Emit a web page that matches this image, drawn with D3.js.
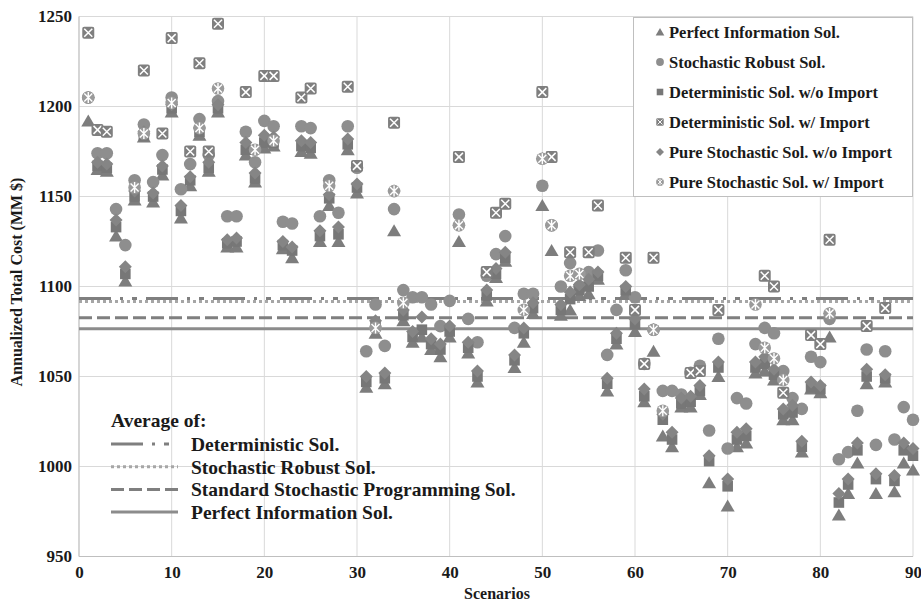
<!DOCTYPE html>
<html><head><meta charset="utf-8">
<script src="https://cdn.jsdelivr.net/npm/d3@7"></script>
<style>
body{margin:0;background:#fff}
text{font-family:"Liberation Serif","Times New Roman",serif;font-weight:bold;fill:#1a1a1a}
</style>
</head><body>
<svg id="c" width="921" height="607"></svg>
<script>
// ---------------- DATA ----------------
const scenarios = d3.range(1, 91);
const xTicks = [0,10,20,30,40,50,60,70,80,90];
const yTicks = [950,1000,1050,1100,1150,1200,1250];

const perfectInfo = [1192,1165,1164,1128,1103,1148,1183,1147,1162,1197,
 1138,1156,1184,1164,1197,1122,1122,1173,1158,1177,
 1178,1121,1116,1175,1174,1125,1145,1125,1176,1152,
 1044,1074,1046,1131,1081,1069,1072,1065,1061,1072,
 1125,1063,1047,1092,1105,1114,1055,1069,1085,1145,
 1120,1084,1087,1095,1096,1104,1042,1068,1096,1075,
 1036,1064,1017,1011,1033,1033,1040,991,1050,978,
 1011,1013,1052,1053,1048,1026,1026,1008,1043,1041,
 1072,973,985,1002,1046,985,1047,986,1002,998];

const stochRobust = [1205,1174,1174,1143,1123,1159,1190,1158,1173,1205,
 1154,1168,1193,1173,1203,1139,1139,1186,1169,1192,
 1189,1136,1135,1189,1188,1139,1159,1141,1189,1166,
 1064,1090,1067,1143,1098,1094,1094,1090,1078,1092,
 1140,1082,1069,1106,1118,1128,1077,1096,1096,1156,
 1134,1100,1113,1100,1108,1120,1062,1087,1109,1094,
 1057,1076,1042,1042,1040,1052,1056,1020,1071,1010,
 1038,1035,1068,1077,1074,1053,1038,1032,1061,1058,
 1082,1004,1008,1031,1065,1012,1064,1015,1033,1026];

const detNoImport = [1241,1167,1166,1133,1107,1150,1184,1150,1165,1199,
 1142,1159,1186,1166,1199,1124,1125,1176,1160,1180,
 1180,1123,1120,1178,1177,1128,1149,1129,1179,1155,
 1047,1078,1049,1191,1084,1072,1076,1068,1065,1075,
 1172,1066,1050,1095,1107,1116,1059,1074,1088,1208,
 1172,1087,1093,1098,1100,1106,1046,1071,1098,1079,
 1039,1116,1026,1015,1035,1036,1042,1003,1055,989,
 1015,1017,1055,1057,1051,1029,1030,1011,1044,1043,
 1126,980,990,1009,1050,993,1049,992,1009,1006];

const detImport = [1241,1187,1186,null,null,null,1220,null,1185,1238,
 null,1175,1224,1175,1246,null,null,1208,null,1217,
 1217,null,null,1205,1210,null,null,null,1211,1167,
 null,null,null,1191,null,null,null,null,null,null,
 1172,null,null,1108,1141,1146,null,null,null,1208,
 1172,null,1119,null,1119,1145,null,null,1116,1087,
 1057,1116,null,null,null,1052,1053,null,1087,null,
 null,null,null,1106,1100,1041,null,null,1073,1068,
 1126,null,null,null,1078,null,1088,null,null,null];

const pureStochNoImport = [1205,1169,1168,1137,1111,1153,1186,1152,1167,1201,
 1145,1161,1188,1169,1201,1126,1127,1180,1163,1184,
 1183,1125,1122,1181,1180,1131,1151,1133,1182,1157,
 1050,1081,1052,1153,1087,1075,1083,1071,1068,1078,
 1134,1069,1053,1098,1110,1119,1062,1077,1091,1171,
 1134,1090,1097,1101,1104,1108,1049,1074,1100,1082,
 1043,1076,1029,1019,1038,1039,1045,1006,1058,993,
 1019,1021,1058,1061,1054,1032,1034,1014,1047,1045,
 1085,985,993,1013,1054,996,1051,995,1013,1010];

const pureStochImport = [1205,null,null,null,null,1155,1185,null,null,1202,
 null,null,1188,null,1210,null,null,null,1176,null,
 1181,null,null,null,null,null,1156,null,null,null,
 null,1077,null,1153,1091,null,null,null,null,null,
 1134,null,null,null,null,null,null,1087,null,1171,
 1134,null,1106,1107,null,null,null,null,null,null,
 null,1076,1031,null,null,null,null,null,null,null,
 null,null,1090,1066,1060,1048,null,null,null,null,
 1085,null,null,null,null,null,null,null,null,null];

const averageNames = ["Deterministic Sol.","Stochastic Robust Sol.","Standard Stochastic Programming Sol.","Perfect Information Sol."];
const averageValues = [1093.3, 1091.7, 1082.6, 1076.5];

const seriesNames = ["Perfect Information Sol.","Stochastic Robust Sol.","Deterministic Sol. w/o Import","Deterministic Sol. w/ Import","Pure Stochastic Sol. w/o Import","Pure Stochastic Sol. w/ Import"];

// ---------------- CHART ----------------
const svg = d3.select("#c");
const x = d3.scaleLinear().domain([0, 90]).range([79, 913]);
const y = d3.scaleLinear().domain([950, 1250]).range([556.5, 16.5]);

// gridlines
svg.append("g").selectAll("line").data(yTicks).join("line")
  .attr("x1", x(0)).attr("x2", x(90)).attr("y1", d => y(d)).attr("y2", d => y(d))
  .attr("stroke", "#d9d9d9").attr("stroke-width", 1);
svg.append("g").selectAll("line").data(xTicks).join("line")
  .attr("x1", d => x(d)).attr("x2", d => x(d)).attr("y1", y(950)).attr("y2", y(1250))
  .attr("stroke", "#d9d9d9").attr("stroke-width", 1);
// axis lines
svg.append("line").attr("x1", x(0)).attr("x2", x(0)).attr("y1", y(950)).attr("y2", y(1250)).attr("stroke", "#bfbfbf");
svg.append("line").attr("x1", x(0)).attr("x2", x(90)).attr("y1", y(950)).attr("y2", y(950)).attr("stroke", "#bfbfbf");

// axes
const ay = svg.append("g").attr("transform", `translate(${x(0)},0)`)
  .call(d3.axisLeft(y).tickValues(yTicks).tickSize(0).tickPadding(7).tickFormat(d3.format("d")));
ay.select(".domain").remove();
ay.selectAll("text").attr("font-size", 17).attr("font-family", null).attr("fill", "#1a1a1a");
const ax = svg.append("g").attr("transform", `translate(0,${y(950)})`)
  .call(d3.axisBottom(x).tickValues(xTicks).tickSize(0).tickPadding(9).tickFormat(d3.format("d")));
ax.select(".domain").remove();
ax.selectAll("text").attr("font-size", 17).attr("font-family", null).attr("fill", "#1a1a1a");

svg.append("text").attr("x", 497).attr("y", 599).attr("text-anchor", "middle").attr("font-size", 16).text("Scenarios");
svg.append("text").attr("transform", "translate(22,282) rotate(-90)").attr("text-anchor", "middle").attr("font-size", 16).text("Annualized Total Cost (MM $)");

// average lines
const lineStyles = [
  {color: "#7f7f7f", dash: "32,9,3,9,5,9", w: 3},
  {color: "#a6a6a6", dash: "3,3", w: 3},
  {color: "#7f7f7f", dash: "13,5", w: 3},
  {color: "#8c8c8c", dash: null, w: 3}
];
svg.append("g").selectAll("line").data(averageValues).join("line")
  .attr("x1", x(0)).attr("x2", x(90)).attr("y1", d => y(d)).attr("y2", d => y(d))
  .attr("stroke", (d, i) => lineStyles[i].color)
  .attr("stroke-width", (d, i) => lineStyles[i].w)
  .attr("stroke-dasharray", (d, i) => lineStyles[i].dash);

// marker drawers
function drawMarker(g, type, s) {
  const k = s || 1;
  if (type === 0) {
    g.append("path").attr("d", `M0,${-6.5*k} L${7*k},${5.5*k} L${-7*k},${5.5*k} Z`).attr("fill", "#7d7d7d");
  } else if (type === 1) {
    g.append("circle").attr("r", 6.3*k).attr("fill", "#8e8e8e");
  } else if (type === 2) {
    g.append("rect").attr("x", -5.3*k).attr("y", -5.3*k).attr("width", 10.6*k).attr("height", 10.6*k).attr("fill", "#777");
  } else if (type === 3) {
    g.append("rect").attr("x", -6*k).attr("y", -6*k).attr("width", 12*k).attr("height", 12*k).attr("rx", 2*k).attr("fill", "#7f7f7f");
    g.append("path").attr("d", `M${-4*k},${-4*k}L${4*k},${4*k}M${4*k},${-4*k}L${-4*k},${4*k}`).attr("stroke", "#fff").attr("stroke-width", 1.5*k);
  } else if (type === 4) {
    g.append("path").attr("d", `M0,${-6.5*k} L${6.5*k},0 L0,${6.5*k} L${-6.5*k},0 Z`).attr("fill", "#858585");
  } else {
    g.append("circle").attr("r", 6.3*k).attr("fill", "#9a9a9a");
    g.append("path").attr("d", `M${-4*k},${-4*k}L${4*k},${4*k}M${4*k},${-4*k}L${-4*k},${4*k}M0,${-5.5*k}L0,${5.5*k}`).attr("stroke", "#fff").attr("stroke-width", 1.4*k);
  }
}

const allSeries = [perfectInfo, stochRobust, detNoImport, pureStochNoImport, detImport, pureStochImport];
const typesOrder = [0, 1, 2, 4, 3, 5];
allSeries.forEach((arr, si) => {
  const t = typesOrder[si];
  const g = svg.append("g");
  scenarios.forEach((sc, i) => {
    const v = arr[i];
    if (v == null) return;
    const mg = g.append("g").attr("transform", `translate(${x(sc)},${y(v)})`);
    drawMarker(mg, t, 1);
  });
});

// legend (top-right)
const lg = svg.append("g");
lg.append("rect").attr("x", 633.5).attr("y", 17.5).attr("width", 279).attr("height", 179)
  .attr("fill", "#fff").attr("stroke", "#bfbfbf");
seriesNames.forEach((n, i) => {
  const yy = 32 + i * 30;
  const mg = lg.append("g").attr("transform", `translate(660,${yy})`);
  drawMarker(mg, i, 0.62);
  lg.append("text").attr("x", 669).attr("y", yy).attr("dy", "0.35em").attr("font-size", 16.5).text(n);
});

// bottom-left legend for averages
const bl = svg.append("g");
bl.append("text").attr("x", 111).attr("y", 420).attr("dy", "0.35em").attr("font-size", 19.5).text("Average of:");
averageNames.forEach((n, i) => {
  const yy = 444 + i * 22.7;
  bl.append("line").attr("x1", 111).attr("x2", 178).attr("y1", yy).attr("y2", yy)
    .attr("stroke", lineStyles[i].color).attr("stroke-width", 3)
    .attr("stroke-dasharray", lineStyles[i].dash);
  bl.append("text").attr("x", 191).attr("y", yy).attr("dy", "0.35em").attr("font-size", 19.5).text(n);
});
</script>
</body></html>
